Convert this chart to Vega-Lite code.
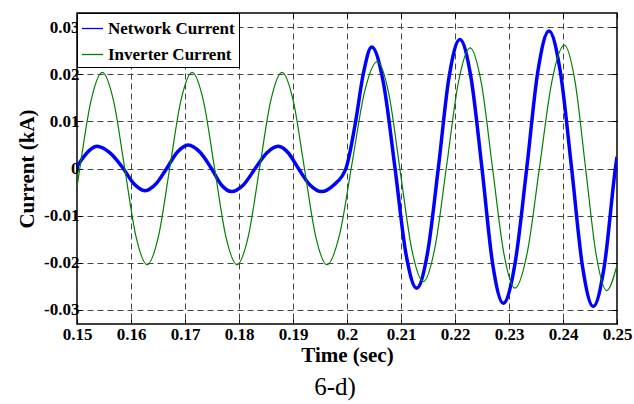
{
  "$schema": "https://vega.github.io/schema/vega-lite/v6.json",
  "width": 540,
  "height": 311,
  "autosize": "none",
  "padding": {"left": 77, "top": 13, "right": 17, "bottom": 80},
  "background": "white",
  "title": {"text": "6-d)", "orient": "bottom", "anchor": "middle", "font": "Liberation Serif", "fontSize": 25, "fontWeight": "normal", "color": "black", "offset": 10, "dx": -12},
  "config": {
    "view": {"stroke": "#000", "strokeWidth": 1.5},
    "axis": {"domain": false, "labelFont": "Liberation Serif", "labelFontWeight": "bold", "labelFontSize": 17, "labelColor": "#000", "titleFont": "Liberation Serif", "titleFontWeight": "bold", "titleFontSize": 21, "titleColor": "#000", "tickColor": "#000", "tickSize": -5, "tickWidth": 1, "gridColor": "#444", "gridDash": [6, 4], "gridWidth": 1, "gridOpacity": 1},
    "legend": {"cornerRadius": 0}
  },
  "data": {"values": [
    {"time": 0.15, "current": 0.0004, "series": "Network Current"},
    {"time": 0.15183, "current": 0.0033, "series": "Network Current"},
    {"time": 0.15365, "current": 0.0047, "series": "Network Current"},
    {"time": 0.15611, "current": 0.0033, "series": "Network Current"},
    {"time": 0.15857, "current": 0, "series": "Network Current"},
    {"time": 0.16058, "current": -0.0033, "series": "Network Current"},
    {"time": 0.1626, "current": -0.0047, "series": "Network Current"},
    {"time": 0.1646, "current": -0.0033, "series": "Network Current"},
    {"time": 0.1666, "current": 0, "series": "Network Current"},
    {"time": 0.1686, "current": 0.0035, "series": "Network Current"},
    {"time": 0.1706, "current": 0.005, "series": "Network Current"},
    {"time": 0.17275, "current": 0.0035, "series": "Network Current"},
    {"time": 0.1749, "current": 0, "series": "Network Current"},
    {"time": 0.17675, "current": -0.0035, "series": "Network Current"},
    {"time": 0.1786, "current": -0.0049, "series": "Network Current"},
    {"time": 0.1808, "current": -0.0035, "series": "Network Current"},
    {"time": 0.183, "current": 0, "series": "Network Current"},
    {"time": 0.18514, "current": 0.0033, "series": "Network Current"},
    {"time": 0.18728, "current": 0.0047, "series": "Network Current"},
    {"time": 0.18914, "current": 0.0033, "series": "Network Current"},
    {"time": 0.191, "current": 0, "series": "Network Current"},
    {"time": 0.19315, "current": -0.0035, "series": "Network Current"},
    {"time": 0.19531, "current": -0.0049, "series": "Network Current"},
    {"time": 0.19755, "current": -0.0035, "series": "Network Current"},
    {"time": 0.1998, "current": 0, "series": "Network Current"},
    {"time": 0.2016, "current": 0.01, "series": "Network Current"},
    {"time": 0.203, "current": 0.02, "series": "Network Current"},
    {"time": 0.20457, "current": 0.0258, "series": "Network Current"},
    {"time": 0.20674, "current": 0.0182, "series": "Network Current"},
    {"time": 0.2089, "current": 0, "series": "Network Current"},
    {"time": 0.2109, "current": -0.018, "series": "Network Current"},
    {"time": 0.2129, "current": -0.0254, "series": "Network Current"},
    {"time": 0.2149, "current": -0.018, "series": "Network Current"},
    {"time": 0.2169, "current": 0, "series": "Network Current"},
    {"time": 0.2189, "current": 0.0194, "series": "Network Current"},
    {"time": 0.2209, "current": 0.0274, "series": "Network Current"},
    {"time": 0.22295, "current": 0.0194, "series": "Network Current"},
    {"time": 0.225, "current": 0, "series": "Network Current"},
    {"time": 0.22697, "current": -0.0202, "series": "Network Current"},
    {"time": 0.22894, "current": -0.0286, "series": "Network Current"},
    {"time": 0.23111, "current": -0.0202, "series": "Network Current"},
    {"time": 0.23328, "current": 0, "series": "Network Current"},
    {"time": 0.23534, "current": 0.0206, "series": "Network Current"},
    {"time": 0.2374, "current": 0.0292, "series": "Network Current"},
    {"time": 0.2395, "current": 0.0206, "series": "Network Current"},
    {"time": 0.2416, "current": 0, "series": "Network Current"},
    {"time": 0.2436, "current": -0.0207, "series": "Network Current"},
    {"time": 0.2456, "current": -0.0293, "series": "Network Current"},
    {"time": 0.24765, "current": -0.0207, "series": "Network Current"},
    {"time": 0.2497, "current": 0, "series": "Network Current"},
    {"time": 0.25, "current": 0.0025, "series": "Network Current"},
    {"time": 0.15, "current": -0.004, "series": "Inverter Current"},
    {"time": 0.15052, "current": 0, "series": "Inverter Current"},
    {"time": 0.1526, "current": 0.0144, "series": "Inverter Current"},
    {"time": 0.15468, "current": 0.0204, "series": "Inverter Current"},
    {"time": 0.15676, "current": 0.0144, "series": "Inverter Current"},
    {"time": 0.15884, "current": 0, "series": "Inverter Current"},
    {"time": 0.16092, "current": -0.0144, "series": "Inverter Current"},
    {"time": 0.163, "current": -0.0204, "series": "Inverter Current"},
    {"time": 0.16508, "current": -0.0144, "series": "Inverter Current"},
    {"time": 0.16716, "current": 0, "series": "Inverter Current"},
    {"time": 0.16924, "current": 0.0144, "series": "Inverter Current"},
    {"time": 0.17132, "current": 0.0204, "series": "Inverter Current"},
    {"time": 0.1734, "current": 0.0144, "series": "Inverter Current"},
    {"time": 0.17548, "current": 0, "series": "Inverter Current"},
    {"time": 0.17756, "current": -0.0144, "series": "Inverter Current"},
    {"time": 0.17964, "current": -0.0204, "series": "Inverter Current"},
    {"time": 0.18172, "current": -0.0144, "series": "Inverter Current"},
    {"time": 0.1838, "current": 0, "series": "Inverter Current"},
    {"time": 0.18588, "current": 0.0144, "series": "Inverter Current"},
    {"time": 0.18796, "current": 0.0204, "series": "Inverter Current"},
    {"time": 0.19004, "current": 0.0144, "series": "Inverter Current"},
    {"time": 0.19212, "current": 0, "series": "Inverter Current"},
    {"time": 0.1942, "current": -0.0144, "series": "Inverter Current"},
    {"time": 0.19628, "current": -0.0204, "series": "Inverter Current"},
    {"time": 0.19861, "current": -0.0141, "series": "Inverter Current"},
    {"time": 0.20095, "current": 0.0012, "series": "Inverter Current"},
    {"time": 0.20328, "current": 0.0164, "series": "Inverter Current"},
    {"time": 0.20561, "current": 0.0227, "series": "Inverter Current"},
    {"time": 0.20774, "current": 0.0159, "series": "Inverter Current"},
    {"time": 0.20987, "current": -0.0007, "series": "Inverter Current"},
    {"time": 0.212, "current": -0.0172, "series": "Inverter Current"},
    {"time": 0.21413, "current": -0.024, "series": "Inverter Current"},
    {"time": 0.2163, "current": -0.0167, "series": "Inverter Current"},
    {"time": 0.21847, "current": 0.0008, "series": "Inverter Current"},
    {"time": 0.22063, "current": 0.0183, "series": "Inverter Current"},
    {"time": 0.2228, "current": 0.0256, "series": "Inverter Current"},
    {"time": 0.22488, "current": 0.0181, "series": "Inverter Current"},
    {"time": 0.22695, "current": 0.0001, "series": "Inverter Current"},
    {"time": 0.22903, "current": -0.0179, "series": "Inverter Current"},
    {"time": 0.2311, "current": -0.0254, "series": "Inverter Current"},
    {"time": 0.23339, "current": -0.0178, "series": "Inverter Current"},
    {"time": 0.23567, "current": 0.0004, "series": "Inverter Current"},
    {"time": 0.23796, "current": 0.0186, "series": "Inverter Current"},
    {"time": 0.24024, "current": 0.0262, "series": "Inverter Current"},
    {"time": 0.24221, "current": 0.0186, "series": "Inverter Current"},
    {"time": 0.24417, "current": 0.0002, "series": "Inverter Current"},
    {"time": 0.24614, "current": -0.0183, "series": "Inverter Current"},
    {"time": 0.2481, "current": -0.0259, "series": "Inverter Current"},
    {"time": 0.25, "current": -0.0205, "series": "Inverter Current"}
  ]},
  "layer": [
    {
      "transform": [{"filter": "datum.series == 'Network Current'"}],
      "mark": {"type": "line", "interpolate": "monotone", "clip": true},
      "encoding": {
        "x": {"field": "time", "type": "quantitative", "scale": {"domain": [0.15, 0.25], "nice": false, "zero": false},
          "axis": {"orient": "bottom", "title": "Time (sec)", "values": [0.15, 0.16, 0.17, 0.18, 0.19, 0.2, 0.21, 0.22, 0.23, 0.24, 0.25], "labelExpr": "format(datum.value, '.2~f')", "grid": true, "labelPadding": 7, "titlePadding": 2, "labelFlush": false}},
        "y": {"field": "current", "type": "quantitative", "scale": {"domain": [-0.033, 0.033], "nice": false, "zero": false},
          "axis": {"orient": "left", "title": "Current (kA)", "values": [-0.03, -0.02, -0.01, 0, 0.01, 0.02, 0.03], "labelExpr": "datum.value == 0 ? '0' : (datum.value < 0 ? '-' + format(-datum.value, '.2f') : format(datum.value, '.2f'))", "grid": true, "labelPadding": 3, "titlePadding": 6}},
        "strokeWidth": {"condition": {"test": "isValid(datum.time)", "value": 3.5}, "value": 1.3},
        "color": {"field": "series", "type": "nominal", "scale": {"domain": ["Network Current", "Inverter Current"], "range": ["#0000ff", "#008000"]},
          "legend": {"title": null, "orient": "top-left", "offset": 0, "labelFont": "Liberation Serif", "labelFontWeight": "bold", "labelFontSize": 17, "labelColor": "#000", "symbolType": "stroke", "symbolSize": 450, "symbolStrokeWidth": 1.3, "padding": 4, "rowPadding": 6, "labelOffset": 4, "strokeColor": "#000", "fillColor": "#fff"}}
      }
    },
    {
      "transform": [{"filter": "datum.series == 'Inverter Current'"}],
      "mark": {"type": "line", "interpolate": "monotone", "clip": true, "strokeWidth": 1.2},
      "encoding": {
        "x": {"field": "time", "type": "quantitative",
          "axis": {"orient": "top", "title": null, "labels": false, "grid": false, "values": [0.15, 0.16, 0.17, 0.18, 0.19, 0.2, 0.21, 0.22, 0.23, 0.24, 0.25]}},
        "y": {"field": "current", "type": "quantitative",
          "axis": {"orient": "right", "title": null, "labels": false, "grid": false, "values": [-0.03, -0.02, -0.01, 0, 0.01, 0.02, 0.03]}},
        "color": {"field": "series", "type": "nominal"}
      }
    }
  ],
  "resolve": {"axis": {"x": "independent", "y": "independent"}}
}
